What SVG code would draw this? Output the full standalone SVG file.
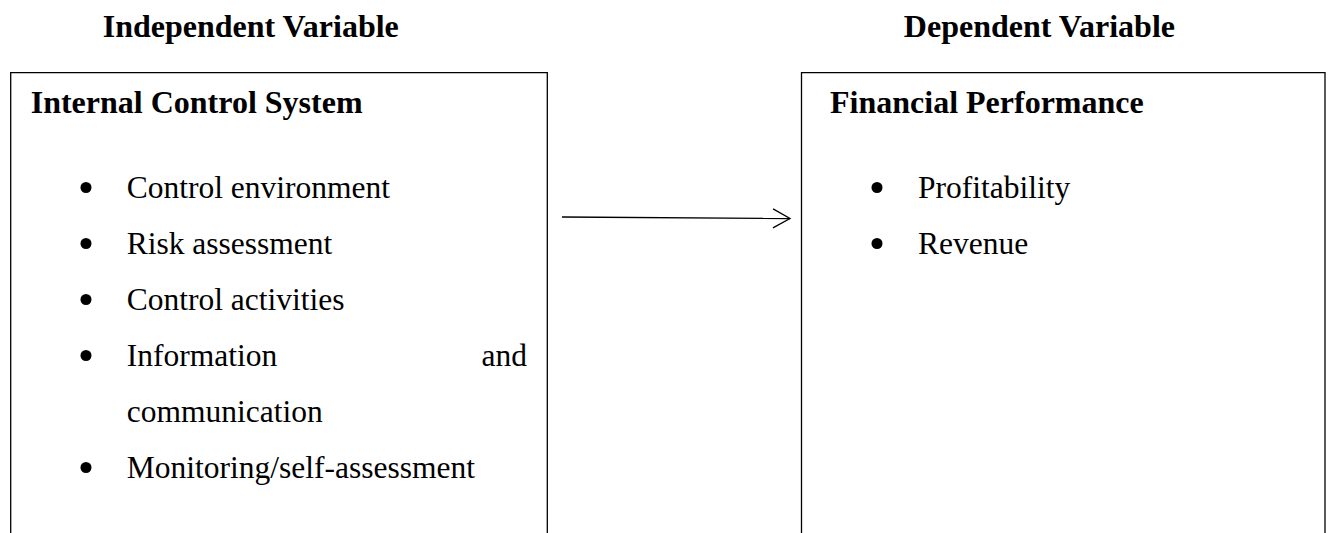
<svg xmlns="http://www.w3.org/2000/svg" width="1330" height="533" viewBox="0 0 1330 533">
<defs>
<style>
.hd{font-family:"Liberation Serif","Times New Roman",serif;font-weight:bold;font-size:32px;fill:#000}
.tx{font-family:"Liberation Serif","Times New Roman",serif;font-size:31.5px;fill:#000}
.box{fill:#fff;stroke:#000;stroke-width:1.3}
.bul{fill:#000}
.conn{stroke:#000;stroke-width:1.3;fill:none}
</style>
<marker id="arr" markerUnits="userSpaceOnUse" markerWidth="22" markerHeight="24" refX="18" refY="11" orient="auto">
<path d="M1,1.5 L18,11 L1,20.5" fill="none" stroke="#000" stroke-width="1.3"/>
</marker>
</defs>
<rect width="1330" height="533" fill="#fff"/>
<g id="label-independent">
<text class="hd" x="102.7" y="36.7">Independent Variable</text>
</g>
<g id="label-dependent">
<text class="hd" x="1175" y="36.7" text-anchor="end">Dependent Variable</text>
</g>
<g id="node-internal-control">
<path class="box" d="M10.7,545 L10.7,72.7 L547.3,72.7 L547.3,545"/>
<text class="hd" x="30.7" y="113.3">Internal Control System</text>
<circle class="bul" cx="86" cy="187.5" r="5.5"/>
<text class="tx" x="126.7" y="197.5">Control environment</text>
<circle class="bul" cx="86" cy="243.5" r="5.5"/>
<text class="tx" x="126.7" y="253.5">Risk assessment</text>
<circle class="bul" cx="86" cy="299.5" r="5.5"/>
<text class="tx" x="126.7" y="309.5">Control activities</text>
<circle class="bul" cx="86" cy="355.5" r="5.5"/>
<text class="tx" x="126.7" y="365.5">Information</text>
<text class="tx" x="527" y="365.5" text-anchor="end">and</text>
<text class="tx" x="126.7" y="421.5">communication</text>
<circle class="bul" cx="86" cy="467.5" r="5.5"/>
<text class="tx" x="126.7" y="477.5">Monitoring/self-assessment</text>
</g>
<g id="node-financial-performance">
<path class="box" d="M801.5,545 L801.5,72.7 L1325,72.7 L1325,545"/>
<text class="hd" x="830" y="113.3">Financial Performance</text>
<circle class="bul" cx="877" cy="187.5" r="5.5"/>
<text class="tx" x="918" y="197.5">Profitability</text>
<circle class="bul" cx="877" cy="243.5" r="5.5"/>
<text class="tx" x="918" y="253.5">Revenue</text>
</g>
<g id="connectors">
<line class="conn" x1="562" y1="217" x2="790" y2="218.5" marker-end="url(#arr)"/>
</g>
</svg>
